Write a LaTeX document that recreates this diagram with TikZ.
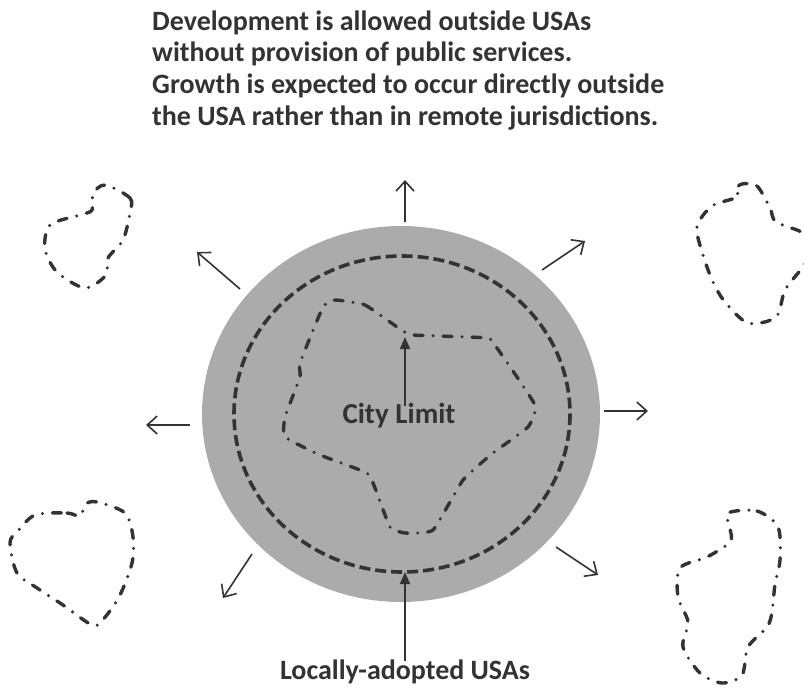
\documentclass[tikz,border=0pt]{standalone}
\usepackage{fontspec}
\setmainfont{Carlito}
\usetikzlibrary{arrows.meta}
\definecolor{ink}{HTML}{333333}
\definecolor{disc}{HTML}{ABABAB}

\begin{document}
\begin{tikzpicture}[x=1pt,y=-1pt,
            every node/.style={inner sep=0pt,text=ink,font=\fontsize{28}{31.6}\selectfont\bfseries},
            usa/.style={draw=ink,line width=3.6pt,dash pattern=on 11pt off 5pt},
            limit/.style={draw=ink,line width=3.4pt,line cap=round,dash pattern=on 9pt off 10pt on 0pt off 10pt},
            spread/.style={draw=ink,line width=1.6pt,-{Straight Barb[length=10pt,width=18pt]}},
            pointer/.style={draw=ink,line width=1.6pt,-{Triangle[length=12pt,width=10pt]}},
            ]
            \useasboundingbox (0,0) rectangle (804,688);

            % grey disc and the USA boundary
            \fill[disc] (401,414) ellipse [x radius=199, y radius=188];
            \draw[usa] (402,414) ellipse [x radius=168, y radius=158];
            \coordinate (usabottom) at (405,572);

            % city limit
            \draw[limit] plot[smooth cycle, tension=0.25] coordinates {
                (335,300) (365,305) (400,329) (413,335) (487,338) (497,348)
                (535,405) (528,427) (493,453) (463,480) (433,530) (405,533)
                (390,527) (375,488) (367,473) (320,455) (285,437) (285,417)
                (300,377) (300,363) (323,307)};
            \coordinate (notch) at (405,337);

            % remote jurisdictions
            \draw[limit] plot[smooth cycle, tension=0.5] coordinates {
                (105,185) (130,198) (130,213) (123,240) (108,258) (106,275)
                (85,288) (57,272) (45,249) (50,225) (80,215) (92,210) (93,194)};
            \draw[limit] plot[smooth cycle, tension=0.5] coordinates {
                (742,184) (757,186) (770,208) (776,222) (803,233) (812,250)
                (802,268) (785,290) (776,317) (748,323) (725,302) (713,282)
                (703,255) (697,227) (712,206) (738,197) (735,190)};
            \draw[limit] plot[smooth cycle, tension=0.5] coordinates {
                (35,515) (67,513) (80,516) (86,504) (97,502) (125,513)
                (133,537) (132,563) (119,597) (100,623) (90,624) (63,605)
                (37,588) (17,573) (10,543) (17,532)};
            \draw[limit] plot[smooth cycle, tension=0.5] coordinates {
                (728,513) (757,511) (778,527) (780,560) (775,584) (772,612)
                (767,627) (748,647) (742,675) (722,683) (700,673) (683,647)
                (688,622) (678,597) (680,568) (707,557) (730,542) (730,528)};

            % growth arrows
            \coordinate (n0) at (405,222);  \coordinate (n1) at (405,180);
            \coordinate (ne0) at (542,270); \coordinate (ne1) at (585,241);
            \coordinate (e0) at (604,411);  \coordinate (e1) at (648,411);
            \coordinate (se0) at (556,547); \coordinate (se1) at (598,575);
            \coordinate (sw0) at (252,554); \coordinate (sw1) at (223,598);
            \coordinate (w0) at (190,425);  \coordinate (w1) at (146,425);
            \coordinate (nw0) at (240,289); \coordinate (nw1) at (197,252);
            \foreach \d in {n,ne,e,se,sw,w,nw}
                \draw[spread] (\d0) -- (\d1);

            % labels
            \node[anchor=north west,align=left] (note) at (152,10.5)
                {Development is allowed outside USAs\\
                 without provision of public services.\\
                 Growth is expected to occur directly outside\\
                 the USA rather than in remote jurisdictions.};
            \node[anchor=base,font=\fontsize{29}{32}\selectfont\bfseries] (city) at (399,423) {City Limit};
            \node[anchor=base] (adopted) at (405,679) {Locally-adopted USAs};

            \draw[pointer] ([yshift=-4pt]city.north -| notch) -- (notch);
            \draw[pointer] ([yshift=-2pt]adopted.north) -- (usabottom);
        \end{tikzpicture}
\end{document}
